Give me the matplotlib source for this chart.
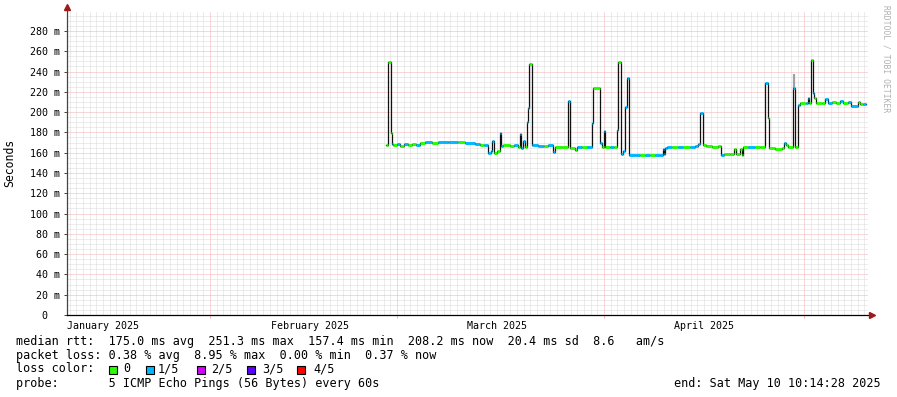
import matplotlib
matplotlib.use("Agg")
import matplotlib.pyplot as plt
from matplotlib.patches import Rectangle

# ---------------- data ----------------
# time in days since 2025-01-01 00:00, median rtt in ms, loss level (0 = none, 1 = 1/5)
days = [57.38, 57.68, 58.13, 58.28, 58.43, 59.03, 59.48, 60.07, 60.67, 61.27,
        61.87, 62.47, 63.22, 64.27, 65.16, 66.66, 68.16, 69.21, 70.71, 71.46,
        72.06, 72.65, 73.10, 73.25, 73.48, 74.00, 74.38, 74.60, 74.90, 75.95,
        76.55, 77.15, 77.45, 77.60, 77.90, 78.20, 78.50, 78.65, 78.79, 79.24,
        80.14, 81.04, 81.64, 82.39, 82.69, 83.74, 84.63, 84.86, 85.68, 86.00,
        86.73, 87.48, 88.23, 88.38, 89.43, 89.65, 89.96, 90.17, 90.92, 91.52,
        91.97, 92.12, 92.57, 92.87, 93.17, 93.47, 93.77, 94.67, 95.42, 96.16,
        96.91, 97.66, 98.41, 98.86, 99.01, 99.16, 99.46, 100.21, 101.11, 101.90,
        102.90, 103.65, 104.10, 104.40, 104.85, 105.30, 106.20, 107.10, 107.55, 108.00,
        108.90, 109.50, 109.80, 110.39, 110.69, 110.84, 111.59, 112.64, 113.38, 114.13,
        114.58, 114.73, 115.63, 116.68, 116.98, 117.28, 117.58, 118.33, 118.63, 119.08,
        119.38, 120.28, 120.57, 120.72, 121.02, 121.25, 121.47, 121.77, 122.67, 123.12,
        123.57, 124.17, 124.77, 125.36, 125.82, 126.56, 127.01, 128.06, 128.36, 128.81]
median_ms = [167.6, 249.0, 179.0, 169.0, 168.0, 169.0, 167.0, 169.0, 167.5, 169.0,
             168.0, 170.0, 170.5, 170.0, 170.5, 170.5, 170.5, 170.0, 169.0, 167.6,
             168.0, 159.5, 162.0, 172.0, 160.0, 162.0, 179.0, 167.0, 168.0, 166.5,
             168.0, 166.0, 178.0, 165.0, 172.0, 166.0, 190.0, 204.0, 247.0, 167.6,
             167.0, 167.0, 167.5, 161.0, 165.5, 166.0, 211.0, 165.0, 163.0, 165.5,
             165.5, 166.0, 189.0, 223.5, 170.0, 166.0, 181.0, 166.0, 165.5, 165.5,
             182.0, 249.0, 159.0, 162.0, 205.0, 233.6, 158.0, 157.7, 158.0, 157.5,
             158.0, 157.5, 158.0, 164.0, 159.0, 165.0, 166.0, 165.5, 166.0, 165.5,
             166.0, 167.0, 169.0, 199.0, 168.0, 166.5, 166.0, 166.5, 158.0, 158.5,
             158.5, 164.0, 158.5, 163.5, 158.0, 166.0, 166.0, 165.5, 166.0, 228.4,
             194.0, 164.5, 164.0, 165.0, 170.0, 168.0, 165.5, 223.5, 166.0, 207.0,
             209.0, 209.0, 213.5, 209.0, 251.4, 218.6, 213.6, 208.7, 209.0, 212.5,
             209.0, 209.5, 209.0, 210.5, 209.0, 209.5, 206.0, 210.0, 208.0, 208.0]
loss_level = [0, 0, 0, 1, 0, 1, 0, 1, 0, 0,
              1, 0, 1, 0, 1, 1, 0, 1, 1, 0,
              1, 1, 1, 1, 0, 0, 1, 1, 0, 0,
              1, 0, 1, 1, 1, 0, 1, 1, 0, 1,
              1, 0, 1, 1, 0, 0, 1, 0, 0, 1,
              0, 1, 1, 0, 1, 0, 1, 0, 1, 0,
              1, 0, 1, 1, 1, 1, 1, 1, 0, 1,
              0, 1, 1, 1, 1, 1, 1, 0, 1, 0,
              1, 1, 1, 1, 0, 0, 0, 0, 1, 0,
              0, 0, 0, 0, 0, 0, 1, 0, 0, 1,
              0, 0, 0, 0, 1, 0, 0, 1, 0, 1,
              0, 1, 1, 0, 0, 1, 0, 0, 0, 1,
              1, 0, 0, 1, 0, 1, 1, 0, 0, 1]
data_end_day = 129.26

smoke_days = [118.33]
smoke_lo = [223.5]
smoke_hi = [237.6]

y_ticks = [0, 20, 40, 60, 80, 100, 120, 140, 160, 180, 200, 220, 240, 260, 280]
y_tick_labels = ["  0  ", " 20 m", " 40 m", " 60 m", " 80 m", "100 m", "120 m", "140 m",
                 "160 m", "180 m", "200 m", "220 m", "240 m", "260 m", "280 m"]
month_start_days = [31, 59, 90, 120]
month_label_days = [15, 46, 74, 105]
month_labels = ["January 2025", "February 2025", "March 2025", "April 2025"]

loss_colors = ["#26ff00", "#00b8ff", "#d400ff", "#5c00ff", "#ff0000"]
loss_names = ["0", "1/5", "2/5", "3/5", "4/5"]

stats_line1 = "median rtt:  175.0 ms avg  251.3 ms max  157.4 ms min  208.2 ms now  20.4 ms sd  8.6   am/s"
stats_line2 = "packet loss: 0.38 % avg  8.95 % max  0.00 % min  0.37 % now"
probe_line = "probe:       5 ICMP Echo Pings (56 Bytes) every 60s"
end_line = "end: Sat May 10 10:14:28 2025"

# ---------------- figure ----------------
W, H = 897, 397
MONO = "DejaVu Sans Mono"
plt.rcParams["font.family"] = [MONO]

fig = plt.figure(figsize=(W / 100, H / 100), dpi=100)
fig.patch.set_facecolor("white")

L, R, T, B = 67, 868, 12, 315
ax = fig.add_axes([L / W, 1 - B / H, (R - L) / W, (B - T) / H])
ax.set_facecolor("white")
x0, x1 = 9.6, 129.55
y0, y1 = 0, 298.7
ax.set_xlim(x0, x1)
ax.set_ylim(y0, y1)

dot = (0, (1, 1))
minor_c = "#dadada"
major_c = "#f0b0b0"
grid_kw = dict(lw=0.72, ls=dot)
# minor grid
for v in range(5, 296, 5):
    if v % 20:
        ax.axhline(v, color=minor_c, zorder=0, **grid_kw)
for d in range(10, 130):
    if d not in month_start_days:
        ax.axvline(d, color=minor_c, zorder=0, **grid_kw)
# major grid
for v in y_ticks[1:]:
    ax.axhline(v, color=major_c, zorder=0.5, **grid_kw)
for d in month_start_days:
    ax.axvline(d, color=major_c, zorder=0.5, **grid_kw)

# smoke
for d, lo, hi in zip(smoke_days, smoke_lo, smoke_hi):
    ax.vlines(d + 0.1, lo, hi, color="#a0a0a0", lw=1.6, zorder=1)

# median line: black steps + colored horizontal segments by loss
xs = days + [data_end_day]
ys = median_ms + [median_ms[-1]]
ax.step(xs, ys, where="post", color="#111111", lw=0.9, zorder=2)
for i in range(len(days)):
    ax.hlines(median_ms[i], xs[i], xs[i + 1], color=loss_colors[loss_level[i]],
              lw=2.1, zorder=3, capstyle="butt")

# axes styling
for s in ["top", "right", "left", "bottom"]:
    ax.spines[s].set_visible(False)
ax.plot([x0, x0], [0, 302.5], color="#444444", lw=0.9, clip_on=False, zorder=5)
ax.plot([x0, x1 + 0.3], [0, 0], color="#000000", lw=0.9, clip_on=False, zorder=5)
ax.plot([x0], [303.5], marker="^", color="#a01818", ms=4, clip_on=False, zorder=6)
ax.plot([x1 + 0.55], [0], marker=">", color="#a01818", ms=4, clip_on=False, zorder=6)

ax.set_yticks(y_ticks)
ax.set_yticklabels(y_tick_labels, fontsize=7.2, family=MONO)
ax.tick_params(axis="y", length=2, width=0.7, pad=3, color="#444444")
ax.set_xticks(month_label_days)
ax.set_xticklabels(month_labels, fontsize=7.2, family=MONO)
ax.tick_params(axis="x", length=0, pad=4)
ax.set_xticks(month_start_days, minor=True)
ax.tick_params(axis="x", which="minor", length=2, width=0.7, color=major_c)

fig.text(10 / W, 1 - 163 / H, "Seconds", rotation=90, ha="center", va="center",
         fontsize=8.3, family=MONO)
fig.text(886 / W, 1 - 5 / H, "RRDTOOL / TOBI OETIKER", rotation=270, ha="center",
         va="top", fontsize=5.8, family=MONO, color="#b0b0b0")


def ftext(x, y, s, **kw):
    kw.setdefault("fontsize", 8.5)
    kw.setdefault("family", MONO)
    kw.setdefault("va", "center")
    fig.text(x / W, 1 - y / H, s, **kw)


ftext(16, 341, stats_line1)
ftext(16, 355, stats_line2)
ftext(16, 369, "loss color:")
ftext(16, 383, probe_line)
ftext(881, 383, end_line, ha="right")

box_x = [109, 146, 197, 247, 297]
lab_x = [123, 158, 211, 262, 313]
for c, n, bx, lx in zip(loss_colors, loss_names, box_x, lab_x):
    fig.patches.append(Rectangle((bx / W, 1 - 373.5 / H), 8 / W, 8 / H,
                                 transform=fig.transFigure, facecolor=c,
                                 edgecolor="black", lw=0.8))
    ftext(lx, 369, n)

fig.savefig("out.png", dpi=100, facecolor="white")
